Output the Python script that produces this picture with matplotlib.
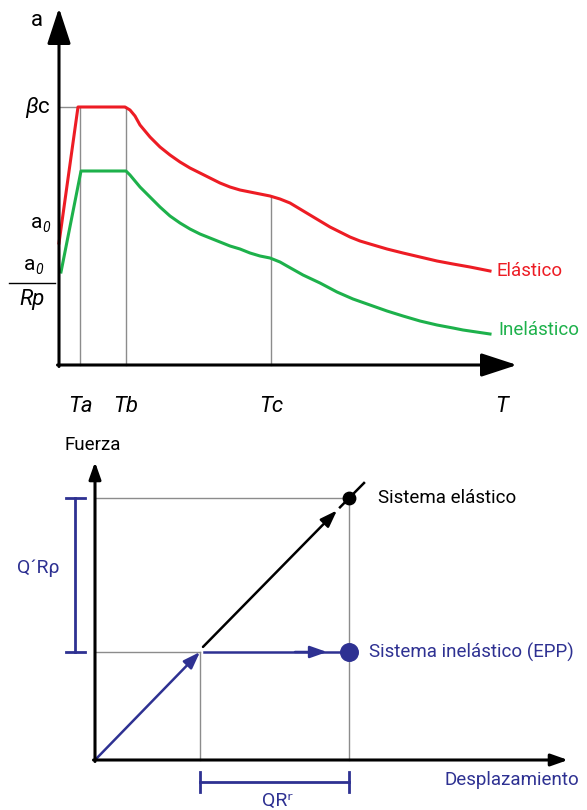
import matplotlib
matplotlib.use("Agg")
import matplotlib.pyplot as plt

plt.rcParams['font.family'] = ['Roboto', 'DejaVu Sans']
plt.rcParams['mathtext.fontset'] = 'custom'
plt.rcParams['mathtext.rm'] = 'Roboto'
plt.rcParams['mathtext.it'] = 'Roboto:italic'

RED = '#ED1C24'
GREEN = '#1DB14B'
BLUE = '#2E3192'
GRAY = '#8c8c8c'

# --- spectrum (top): period T vs spectral acceleration a ---
T_a, T_b, T_c, T_end = 21, 66.5, 212, 443
a0 = 122
beta_c = 258

elastic_T = [0, 19, 65, 66, 71, 76, 81, 91, 101, 111, 121, 131, 141, 151, 161,
             171, 181, 191, 201, 211, 221, 231, 241, 251, 261, 271, 281, 291,
             301, 311, 328, 344, 361, 378, 394, 411, 431]
elastic_a = [122, 258, 258, 258, 255, 249, 240, 228, 218, 210, 203, 197, 192,
             187, 182, 178, 175, 173, 171, 169, 166, 162, 156, 150, 144, 138,
             133, 128, 124, 121, 116, 112, 108, 104, 101, 98, 94]
inelastic_T = [2, 22, 67, 71, 81, 91, 101, 111, 121, 131, 141, 151, 161, 171,
               181, 191, 201, 211, 221, 228, 244, 261, 278, 294, 311, 328, 344,
               361, 378, 394, 404, 431]
inelastic_a = [93, 194, 194, 190, 178, 168, 158, 149, 142, 136, 131, 127, 123,
               119, 116, 112, 109, 107, 103, 99, 90, 82, 73, 66, 60, 54, 49,
               44, 40, 37, 35, 31]
elastic_at_Tc = 169

# --- force-displacement (bottom) ---
d_yield, F_yield = 105, 108
d_max, F_elastic = 254, 262
elastic_ext = 277

fig = plt.figure(figsize=(5.87, 8.10), dpi=100)

ax1 = fig.add_axes([0, 390 / 810, 1, 420 / 810])
ax1.set_xlim(-59, 528)
ax1.set_ylim(-55, 365)
ax1.axis('off')

# reference lines
ax1.plot([0, elastic_T[1]], [beta_c, beta_c], color=GRAY, lw=1.0, zorder=1)
ax1.plot([T_a, T_a], [0, beta_c], color=GRAY, lw=1.0, zorder=1)
ax1.plot([T_b, T_b], [0, beta_c], color=GRAY, lw=1.0, zorder=1)
ax1.plot([T_c, T_c], [0, elastic_at_Tc], color=GRAY, lw=1.0, zorder=1)

ax1.plot(elastic_T, elastic_a, color=RED, lw=2.2, zorder=3,
         solid_joinstyle='round')
ax1.plot(inelastic_T, inelastic_a, color=GREEN, lw=2.2, zorder=3,
         solid_joinstyle='round')

big_head = dict(arrowstyle='-|>,head_length=1.1,head_width=0.36', lw=2.2,
                color='black', mutation_scale=20, shrinkA=0, shrinkB=0)
ax1.annotate('', xy=(0, 357), xytext=(0, -1.5), arrowprops=big_head, zorder=4)
ax1.annotate('', xy=(458, 0), xytext=(-1.5, 0), arrowprops=big_head, zorder=4)


def a0_label(ax, x, y):
    # "a" with a small italic subscript zero
    ax.text(x, y, 'a', fontsize=15, ha='right', va='center')
    ax.annotate('0', (x, y), xytext=(0.3, -4), textcoords='offset points',
                fontsize=10, style='italic', ha='left', va='center')


ax1.text(-22, 345, 'a', fontsize=16, ha='center', va='center')
ax1.text(-8, beta_c, r'$\mathit{\beta}$c', fontsize=16, ha='right', va='center')
a0_label(ax1, -17, 143)
a0_label(ax1, -24, 101)
ax1.plot([-50, -4], [82, 82], color='black', lw=1.0)
ax1.text(-27, 66, 'Rp', fontsize=16, style='italic', ha='center', va='center')

for x, lab in [(T_a, 'Ta'), (T_b, 'Tb'), (T_c, 'Tc'), (T_end, 'T')]:
    ax1.text(x, -41, lab, fontsize=16, style='italic', ha='center', va='center')

ax1.text(438, 94, 'Elástico', fontsize=13.5, color=RED, ha='left', va='center')
ax1.text(439, 35, 'Inelástico', fontsize=13.5, color=GREEN, ha='left', va='center')

ax2 = fig.add_axes([0, 0, 1, 390 / 810])
ax2.set_xlim(-95, 492)
ax2.set_ylim(-50, 340)
ax2.axis('off')

ax2.plot([0, d_max], [F_elastic, F_elastic], color=GRAY, lw=1.0, zorder=1)
ax2.plot([0, d_yield], [F_yield, F_yield], color=GRAY, lw=1.0, zorder=1)
ax2.plot([d_yield, d_yield], [0, F_yield], color=GRAY, lw=1.0, zorder=1)
ax2.plot([d_max, d_max], [0, F_elastic], color=GRAY, lw=1.0, zorder=1)

small_head = dict(arrowstyle='-|>,head_length=0.85,head_width=0.3', lw=2.2,
                  color='black', mutation_scale=12, shrinkA=0, shrinkB=0)
ax2.annotate('', xy=(0, 298), xytext=(0, -1.5), arrowprops=small_head, zorder=4)
ax2.annotate('', xy=(473, 0), xytext=(-1.5, 0), arrowprops=small_head, zorder=4)

# elastic branch: black line with an arrow part way, then through the peak
slope = (F_elastic - F_yield) / (d_max - d_yield)
tip_x = 242
ax2.annotate('', xy=(tip_x, F_yield + slope * (tip_x - d_yield)),
             xytext=(d_yield + 3, F_yield + 3 * slope + 2),
             arrowprops=dict(small_head, lw=1.8), zorder=3)
ax2.plot([245, 269], [F_yield + slope * (245 - d_yield), elastic_ext],
         color='black', lw=1.8, zorder=3)
ax2.scatter([d_max], [F_elastic], s=80, color='black', zorder=5)

# elastic-perfectly-plastic branch
ax2.annotate('', xy=(d_yield, F_yield), xytext=(0, 0),
             arrowprops=dict(small_head, lw=1.8, color=BLUE), zorder=3)
ax2.plot([d_yield + 4, d_max], [F_yield, F_yield], color=BLUE, lw=1.8, zorder=3)
ax2.annotate('', xy=(232, F_yield), xytext=(200, F_yield),
             arrowprops=dict(small_head, lw=1.8, color=BLUE), zorder=3)
ax2.scatter([d_max], [F_yield], s=160, color=BLUE, zorder=5)

# dimension brackets
ax2.plot([-20, -20], [F_yield, F_elastic], color=BLUE, lw=2.0)
for y in (F_yield, F_elastic):
    ax2.plot([-29, -10], [y, y], color=BLUE, lw=2.0)
ax2.text(-57, 192, 'Q\u00b4R\u03c1', fontsize=14, color=BLUE, ha='center', va='center')

ax2.plot([d_yield, d_max], [-22, -22], color=BLUE, lw=2.0)
for x in (d_yield, d_max):
    ax2.plot([x, x], [-12, -32], color=BLUE, lw=2.0)
ax2.text(182, -41, 'QR\u02b3', fontsize=14, color=BLUE, ha='center', va='center')

ax2.text(-2, 315, 'Fuerza', fontsize=13.5, ha='center', va='center')
ax2.text(283, F_elastic, 'Sistema elástico', fontsize=13.5, ha='left', va='center')
ax2.text(274, F_yield, 'Sistema inelástico (EPP)', fontsize=13.5, color=BLUE,
         ha='left', va='center')
ax2.text(350, -20, 'Desplazamiento', fontsize=13.5, color=BLUE, ha='left', va='center')

fig.savefig('out.png', dpi=100)
